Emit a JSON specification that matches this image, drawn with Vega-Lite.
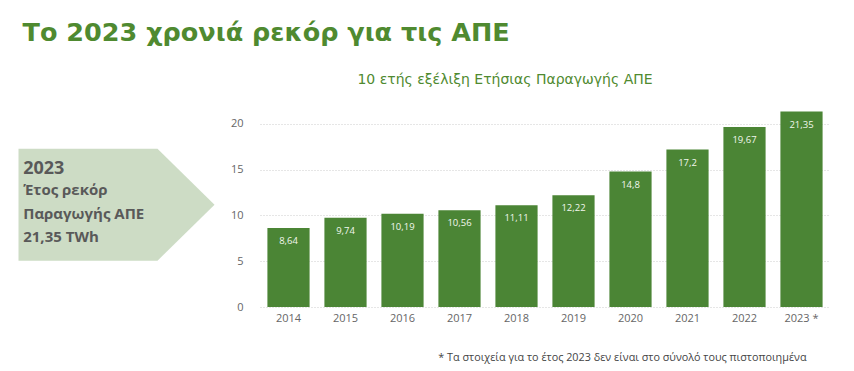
{
  "$schema": "https://vega.github.io/schema/vega-lite/v6.json",
  "autosize": {"type": "pad"},
  "padding": {"left": 18, "top": 20, "right": 25, "bottom": 8},
  "background": "white",
  "title": {
    "text": "Το 2023 χρονιά ρεκόρ για τις ΑΠΕ",
    "anchor": "start",
    "dx": 4,
    "font": "DejaVu Sans",
    "fontSize": 25.5,
    "fontWeight": "bold",
    "color": "#4f8a30",
    "offset": 27
  },
  "vconcat": [
    {
      "width": 570,
      "height": 205,
      "title": {
        "text": "10 ετής εξέλιξη Ετήσιας Παραγωγής ΑΠΕ",
        "anchor": "middle",
        "frame": "group",
        "dx": -40,
        "font": "DejaVu Sans",
        "fontSize": 14,
        "fontWeight": "normal",
        "color": "#4f8a30",
        "offset": 15
      },
      "resolve": {"scale": {"x": "independent"}},
      "layer": [
        {
          "data": {
            "values": [
              {"year": "2014", "value": 8.64, "label": "8,64"},
              {"year": "2015", "value": 9.74, "label": "9,74"},
              {"year": "2016", "value": 10.19, "label": "10,19"},
              {"year": "2017", "value": 10.56, "label": "10,56"},
              {"year": "2018", "value": 11.11, "label": "11,11"},
              {"year": "2019", "value": 12.22, "label": "12,22"},
              {"year": "2020", "value": 14.8, "label": "14,8"},
              {"year": "2021", "value": 17.2, "label": "17,2"},
              {"year": "2022", "value": 19.67, "label": "19,67"},
              {"year": "2023 *", "value": 21.35, "label": "21,35"}
            ]
          },
          "encoding": {
            "x": {
              "field": "year",
              "type": "ordinal",
              "sort": null,
              "scale": {"paddingInner": 0.26, "paddingOuter": 0.13},
              "axis": {
                "title": "*  Τα στοιχεία για το έτος 2023 δεν είναι στο σύνολό τους πιστοποιημένα",
                "titleFont": "Open Sans",
                "titleFontSize": 10.8,
                "titleFontWeight": "normal",
                "titleColor": "#444444",
                "titleAnchor": "end",
                "titleAlign": "right",
                "titleBaseline": "alphabetic",
                "titleX": 546,
                "titleY": 53,
                "labelAngle": 0,
                "labelFont": "Open Sans",
                "labelFontSize": 11,
                "labelColor": "#666666",
                "labelPadding": 5,
                "domain": false,
                "ticks": false
              }
            },
            "y": {
              "field": "value",
              "type": "quantitative",
              "scale": {"domain": [0, 22.4], "nice": false},
              "axis": {
                "title": null,
                "values": [0, 5, 10, 15, 20],
                "grid": true,
                "gridColor": "#cccccc",
                "gridDash": [1, 2],
                "domain": false,
                "ticks": false,
                "labelFont": "Open Sans",
                "labelFontSize": 11,
                "labelColor": "#666666",
                "labelPadding": 17
              }
            }
          },
          "layer": [
            {"mark": {"type": "bar", "color": "#4b8535"}},
            {
              "mark": {"type": "text", "baseline": "top", "dy": 8, "color": "#f2f7ee", "font": "Open Sans", "fontSize": 9.5},
              "encoding": {"text": {"field": "label"}}
            }
          ]
        },
        {
          "data": {
            "values": [
              {"ax": 0, "ay": 17.3, "ay2": 5.06},
              {"ax": 0.709, "ay": 17.3, "ay2": 5.06},
              {"ax": 1, "ay": 11.18, "ay2": 11.18}
            ]
          },
          "mark": {"type": "area", "color": "#cddcc5", "opacity": 1},
          "encoding": {
            "x": {"field": "ax", "type": "quantitative", "scale": {"domain": [1.232, 4.14], "nice": false, "zero": false}, "axis": null},
            "y": {"field": "ay", "type": "quantitative"},
            "y2": {"field": "ay2"}
          }
        },
        {
          "data": {
            "values": [
              {"tx": 0.024, "ty": 14.5, "t": "2023", "big": true},
              {"tx": 0.024, "ty": 12.25, "t": "Έτος ρεκόρ", "big": false},
              {"tx": 0.024, "ty": 9.6, "t": "Παραγωγής ΑΠΕ", "big": false},
              {"tx": 0.024, "ty": 7.1, "t": "21,35 TWh", "big": false}
            ]
          },
          "mark": {"type": "text", "align": "left", "baseline": "alphabetic", "font": "Open Sans", "fontWeight": "bold", "color": "#595959"},
          "encoding": {
            "x": {"field": "tx", "type": "quantitative", "scale": {"domain": [1.232, 4.14], "nice": false, "zero": false}, "axis": null},
            "y": {"field": "ty", "type": "quantitative"},
            "text": {"field": "t"},
            "size": {"field": "big", "type": "nominal", "scale": {"domain": [true, false], "range": [18, 15]}, "legend": null}
          }
        }
      ]
    }
  ],
  "config": {"view": {"stroke": null}}
}
